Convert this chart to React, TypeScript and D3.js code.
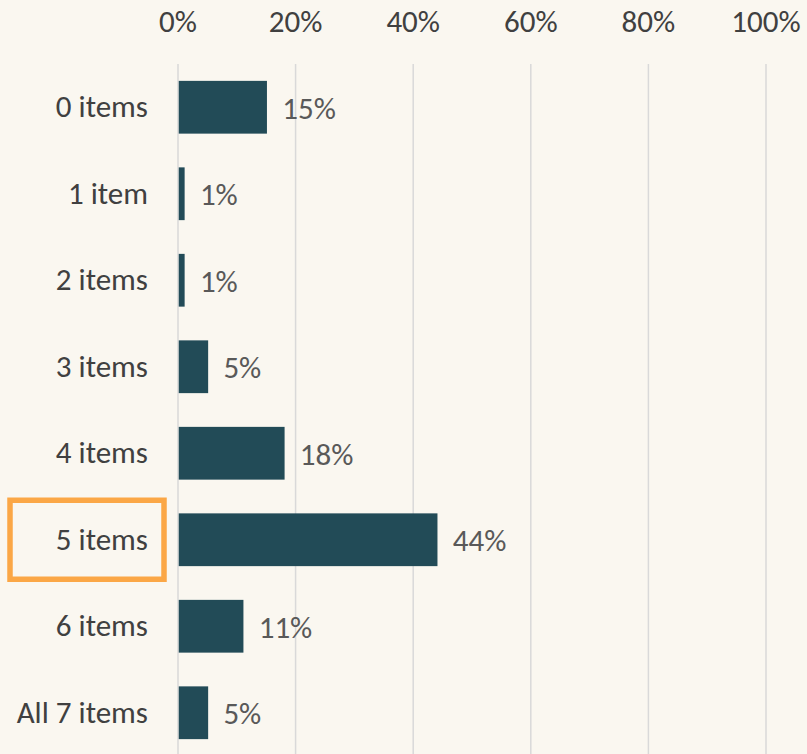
import React from "react";
import * as d3 from "d3";

const categories = ["0 items", "1 item", "2 items", "3 items", "4 items", "5 items", "6 items", "All 7 items"];
const values = [15, 1, 1, 5, 18, 44, 11, 5];
const ticks = [0, 20, 40, 60, 80, 100];
const highlighted = "5 items";

const W = 807;
const H = 754;
const FONT = "Carlito, Calibri, Lato, 'Open Sans', sans-serif";

export default function App() {
  const x = d3.scaleLinear().domain([0, 100]).range([178, 766]);
  const y = d3
    .scaleBand<string>()
    .domain(categories)
    .range([64, 756])
    .paddingInner(0.39)
    .paddingOuter(0.195);
  const bw = y.bandwidth();
  const hb = y(highlighted)! + bw / 2;

  return (
    <svg
      width={W}
      height={H}
      style={{ position: "absolute", left: 0, top: 0, background: "#FAF7F0" }}
    >
      <rect x={0} y={0} width={W} height={H} fill="#FAF7F0" />
      {ticks.map((t) => (
        <g key={t}>
          <line x1={x(t)} x2={x(t)} y1={64} y2={H} stroke="#D9D9D9" strokeWidth={1.5} />
          <text
            x={x(t)}
            y={32}
            textAnchor="middle"
            fontFamily={FONT}
            fontSize={31}
            fill="#404040"
          >
            {t}%
          </text>
        </g>
      ))}
      {categories.map((c, i) => (
        <g key={c}>
          <rect
            x={x(0) + 0.75}
            y={y(c)!}
            width={x(values[i]) - x(0)}
            height={bw}
            fill="#224B57"
          />
          <text
            x={148}
            y={y(c)! + bw / 2}
            dy="0.32em"
            textAnchor="end"
            fontFamily={FONT}
            fontSize={31}
            fill="#404040"
          >
            {c}
          </text>
          <text
            x={x(values[i]) + 16}
            y={y(c)! + bw / 2}
            dy="0.37em"
            fontFamily={FONT}
            fontSize={31}
            fill="#595959"
          >
            {values[i]}%
          </text>
        </g>
      ))}
      <rect
        x={10}
        y={hb - 39.5}
        width={154}
        height={79}
        fill="none"
        stroke="#FBA746"
        strokeWidth={5.5}
      />
    </svg>
  );
}
